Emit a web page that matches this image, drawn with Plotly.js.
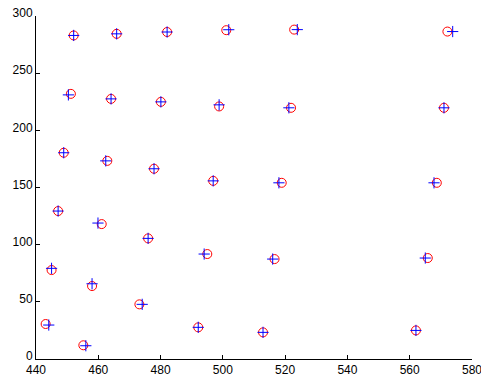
<!DOCTYPE html>
<html>
<head>
<meta charset="utf-8">
<script src="https://cdn.plot.ly/plotly-3.0.1.min.js"></script>
<style>html,body{margin:0;padding:0;background:#fff;}#chart{width:481px;height:376px;}</style>
</head>
<body>
<div id="chart"></div>
<script>
const circleX = [452.1, 465.9, 482.1, 501.1, 522.9, 572.1,
                 451.2, 464.1, 480.1, 498.8, 521.9, 571.0,
                 448.9, 462.9, 477.9, 496.9, 518.9, 568.7,
                 447.1, 461.1, 476.0, 495.0, 516.6, 565.8,
                 445.0, 458.0, 473.2, 492.1, 512.9, 562.0,
                 443.1, 455.2];
const circleY = [283.0, 284.4, 286.0, 287.6, 288.1, 286.4,
                 231.9, 227.5, 224.9, 220.9, 219.7, 219.7,
                 180.4, 173.3, 166.4, 155.8, 154.1, 154.1,
                 129.4, 118.0, 105.5, 91.8, 87.4, 88.3,
                 77.8, 63.8, 47.8, 27.7, 23.3, 25.0,
                 30.6, 12.0];
const plusX = [452.1, 465.9, 482.1, 501.9, 523.9, 573.8,
               450.4, 464.1, 480.1, 498.8, 521.2, 571.0,
               448.9, 462.4, 477.9, 496.9, 518.0, 567.8,
               447.1, 459.9, 476.0, 494.0, 516.0, 565.0,
               445.0, 458.0, 474.1, 492.1, 512.9, 562.0,
               444.1, 456.0];
const plusY = [283.0, 284.4, 286.0, 288.0, 288.1, 286.4,
               231.0, 227.5, 224.9, 222.3, 219.7, 219.7,
               180.4, 173.3, 166.4, 155.8, 154.1, 154.1,
               129.4, 118.9, 105.5, 91.8, 87.4, 88.3,
               79.3, 65.8, 47.8, 27.7, 23.3, 25.0,
               29.7, 11.6];
const xTicks = [440, 460, 480, 500, 520, 540, 560, 580];
const yTicks = [0, 50, 100, 150, 200, 250, 300];

const traces = [
  {x: circleX, y: circleY, type: 'scatter', mode: 'markers', name: 'circles',
   marker: {symbol: 'circle-open', size: 9, color: '#ff0000', line: {width: 1, color: '#ff0000'}}},
  {x: plusX, y: plusY, type: 'scatter', mode: 'markers', name: 'plus',
   marker: {symbol: 'cross-thin-open', size: 8, color: '#0000ff', line: {width: 1, color: '#0000ff'}}}
];
const axisCommon = {
  showgrid: false, zeroline: false, showline: true, linecolor: '#000', linewidth: 1,
  ticks: 'inside', ticklen: 4, tickcolor: '#000', tickwidth: 1,
  tickfont: {family: 'Liberation Sans, Arial, sans-serif', size: 12, color: '#000'},
  mirror: false, ticklabeloverflow: 'allow'
};
const layout = {
  width: 481, height: 376,
  margin: {l: 36, r: 9, t: 16, b: 17, pad: 0},
  paper_bgcolor: '#fff', plot_bgcolor: '#fff',
  showlegend: false,
  xaxis: Object.assign({}, axisCommon, {range: [440, 580], tickvals: xTicks, ticktext: xTicks.map(String)}),
  yaxis: Object.assign({}, axisCommon, {range: [0, 300], tickvals: yTicks, ticktext: yTicks.map(String), ticklabelshift: -3})
};
Plotly.newPlot('chart', traces, layout, {displayModeBar: false, staticPlot: true});
</script>
</body>
</html>
